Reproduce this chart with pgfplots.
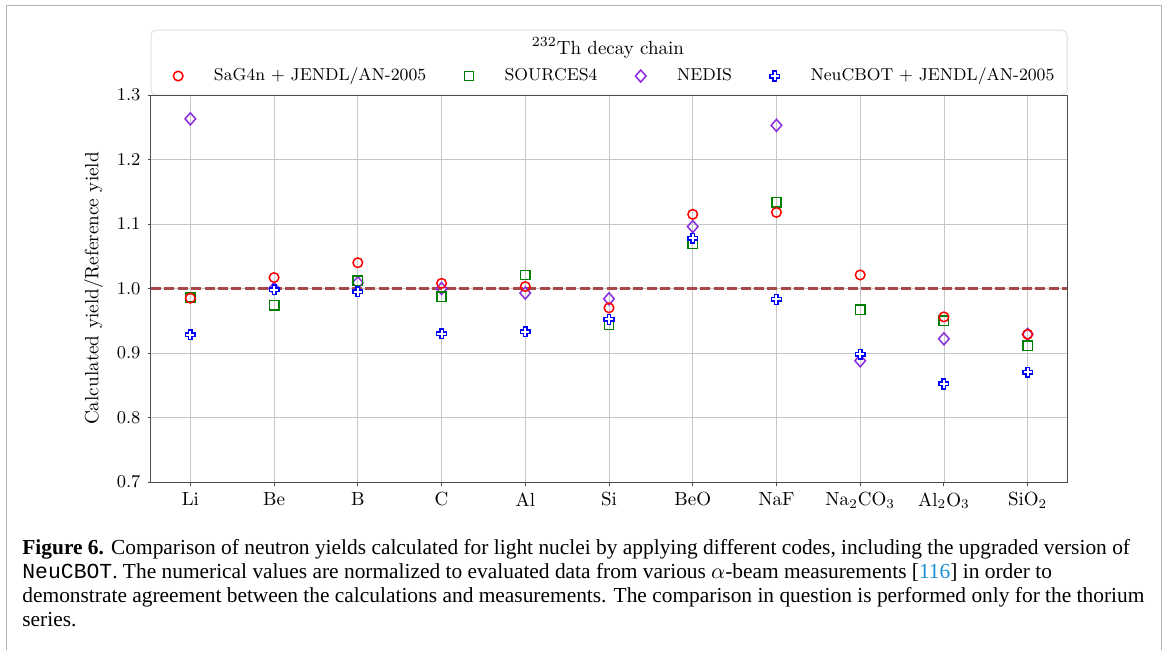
\documentclass[border=0pt]{standalone}
\usepackage{pgfplots}
\pgfplotsset{compat=1.18}
\usepackage{fontspec}
\newfontfamily\capfont{Liberation Serif}
\newfontfamily\capmono{Liberation Mono}
\definecolor{cred}{RGB}{255,0,0}
\definecolor{cgreen}{RGB}{0,128,0}
\definecolor{cviolet}{RGB}{138,43,226}
\definecolor{cblue}{RGB}{0,0,255}
\definecolor{cbrown}{RGB}{168,72,72}
\definecolor{clink}{RGB}{26,143,212}
\pgfdeclareplotmark{thickplus}{%
 \pgfpathmoveto{\pgfpoint{-0.36\pgfplotmarksize}{\pgfplotmarksize}}%
 \pgfpathlineto{\pgfpoint{0.36\pgfplotmarksize}{\pgfplotmarksize}}%
 \pgfpathlineto{\pgfpoint{0.36\pgfplotmarksize}{0.36\pgfplotmarksize}}%
 \pgfpathlineto{\pgfpoint{\pgfplotmarksize}{0.36\pgfplotmarksize}}%
 \pgfpathlineto{\pgfpoint{\pgfplotmarksize}{-0.36\pgfplotmarksize}}%
 \pgfpathlineto{\pgfpoint{0.36\pgfplotmarksize}{-0.36\pgfplotmarksize}}%
 \pgfpathlineto{\pgfpoint{0.36\pgfplotmarksize}{-\pgfplotmarksize}}%
 \pgfpathlineto{\pgfpoint{-0.36\pgfplotmarksize}{-\pgfplotmarksize}}%
 \pgfpathlineto{\pgfpoint{-0.36\pgfplotmarksize}{-0.36\pgfplotmarksize}}%
 \pgfpathlineto{\pgfpoint{-\pgfplotmarksize}{-0.36\pgfplotmarksize}}%
 \pgfpathlineto{\pgfpoint{-\pgfplotmarksize}{0.36\pgfplotmarksize}}%
 \pgfpathlineto{\pgfpoint{-0.36\pgfplotmarksize}{0.36\pgfplotmarksize}}%
 \pgfpathclose
 \pgfusepathqfillstroke}
\pgfdeclareplotmark{wdiamond}{%
 \pgfpathmoveto{\pgfpoint{0pt}{\pgfplotmarksize}}%
 \pgfpathlineto{\pgfpoint{0.88\pgfplotmarksize}{0pt}}%
 \pgfpathlineto{\pgfpoint{0pt}{-\pgfplotmarksize}}%
 \pgfpathlineto{\pgfpoint{-0.88\pgfplotmarksize}{0pt}}%
 \pgfpathclose
 \pgfusepathqstroke}

\pgfplotstableread{
x sag src ned neu
0 0.985 0.986 1.263 0.928
1 1.017 0.974 1.000 0.998
2 1.040 1.012 1.009 0.995
3 1.008 0.987 1.000 0.930
4 1.003 1.021 0.993 0.933
5 0.970 0.944 0.984 0.952
6 1.115 1.069 1.096 1.078
7 1.118 1.134 1.253 0.983
8 1.021 0.967 0.888 0.898
9 0.956 0.950 0.922 0.852
10 0.929 0.911 0.929 0.870
}\data

\begin{document}
\begin{tikzpicture}
\path[use as bounding box] (0,0) rectangle (584pt,325pt);
\draw[gray!60, line width=0.5pt] (3pt,0) -- (3pt,322.5pt) -- (580.5pt,322.5pt) -- (580.5pt,0);
\draw[gray!25, line width=0.5pt, rounded corners=2.5pt, fill=white] (75.5pt,277.5pt) rectangle (533.5pt,310pt);
\node[font=\fontsize{9.5}{11}\selectfont, anchor=center] at (304pt,301pt) {$^{232}$Th decay chain};
\begin{axis}[
  at={(75.5pt,84pt)}, anchor=south west,
  scale only axis, width=458pt, height=193.5pt,
  xmin=-0.47, xmax=10.47, ymin=0.7, ymax=1.3,
  xtick={0,...,10},
  xticklabels={Li,Be,B,C,Al,Si,BeO,NaF,$\mathrm{Na_2CO_3}$,$\mathrm{Al_2O_3}$,$\mathrm{SiO_2}$},
  ytick={0.7,0.8,0.9,1.0,1.1,1.2,1.3},
  yticklabel style={/pgf/number format/fixed,/pgf/number format/fixed zerofill,/pgf/number format/precision=1},
  tick label style={font=\fontsize{9.5}{11}\selectfont},
  label style={font=\fontsize{9.6}{11}\selectfont},
  ylabel={Calculated yield/Reference yield},
  grid=major,
  major grid style={gray!45, line width=0.4pt},
  axis line style={black!70, line width=0.5pt},
  tick style={black!70, line width=0.5pt},
  tick align=outside, tick pos=left, major tick length=1.75pt,
  legend columns=4,
  legend style={draw=none, fill=none, inner sep=0pt,
    at={(axis description cs:0.024,1.049)}, anchor=west,
    font=\fontsize{8.6}{11}\selectfont,
    /tikz/every odd column/.append style={column sep=13.5pt},
    /tikz/every even column/.append style={column sep=17pt}},
  legend cell align=left,
  every axis plot/.append style={line width=0.75pt},
]
\addlegendimage{only marks, mark=o, cred, mark size=2.4pt, line width=0.75pt}
\addlegendentry{SaG4n + JENDL/AN-2005}
\addlegendimage{only marks, mark=square, cgreen, mark size=2.35pt, line width=0.75pt}
\addlegendentry{SOURCES4}
\addlegendimage{only marks, mark=wdiamond, cviolet, mark size=3pt, line width=0.75pt}
\addlegendentry{NEDIS}
\addlegendimage{only marks, mark=thickplus, cblue, mark size=2.4pt, mark options={fill=white}, line width=0.75pt}
\addlegendentry{NeuCBOT + JENDL/AN-2005}
\addplot[forget plot, cbrown, line width=1.1pt, dash pattern=on 5pt off 1.7pt] coordinates {(-0.47,1) (10.47,1)};
\addplot[forget plot, only marks, mark=wdiamond, cviolet, mark size=3pt] table[x=x,y=ned] {\data};
\addplot[forget plot, only marks, mark=square, cgreen, mark size=2.35pt] table[x=x,y=src] {\data};
\addplot[forget plot, only marks, mark=o, cred, mark size=2.4pt] table[x=x,y=sag] {\data};
\addplot[forget plot, only marks, mark=thickplus, cblue, mark size=2.4pt, mark options={fill=white}] table[x=x,y=neu] {\data};
\end{axis}
\node[anchor=base west, align=left, inner sep=0pt, font=\capfont\fontsize{10.7}{12}\selectfont] at (11pt,12pt)
{\textbf{Figure 6.} Comparison of neutron yields calculated for light nuclei by applying different codes, including the upgraded version of\\
{\capmono NeuCBOT}. The numerical values are normalized to evaluated data from various $\alpha$-beam measurements [{\color{clink}116}] in order to\\
demonstrate agreement between the calculations and measurements. The comparison in question is performed only for the thorium\\
series.};
\end{tikzpicture}
\end{document}
